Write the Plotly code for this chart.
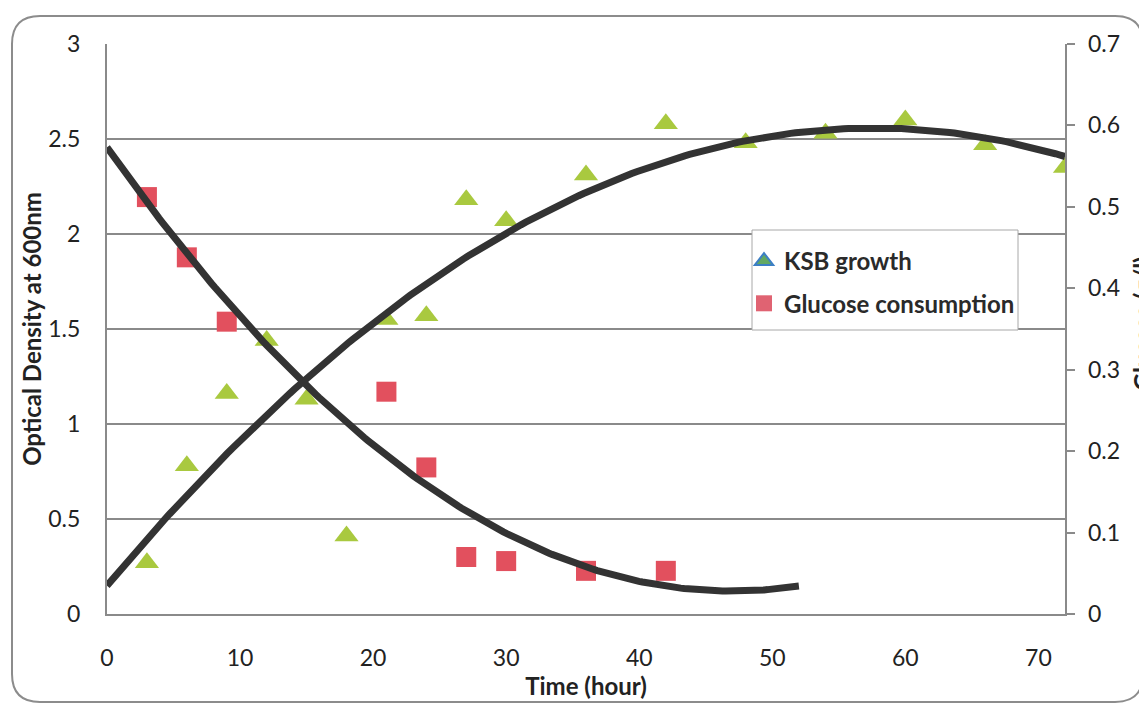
import numpy as np
import plotly.graph_objects as go

# ---- data ----
time_ksb = [3, 6, 9, 12, 15, 18, 21, 24, 27, 30, 36, 42, 48, 54, 60, 66, 72]
od_600 = [0.27, 0.78, 1.16, 1.44, 1.13, 0.41, 1.55, 1.57, 2.18, 2.07, 2.31, 2.58,
          2.48, 2.53, 2.60, 2.47, 2.35]

time_glucose = [3, 6, 9, 21, 24, 27, 30, 36, 42]
glucose = [0.512, 0.438, 0.359, 0.273, 0.180, 0.070, 0.065, 0.053, 0.053]

# trendline settings (Excel-like polynomial trendlines with forecast)
ksb_trend_order = 2
ksb_trend_range = (0, 72)
glu_trend_order = 2
glu_trend_range = (0, 52)

x_ticks = [0, 10, 20, 30, 40, 50, 60, 70]
y_left_ticks = [0, 0.5, 1, 1.5, 2, 2.5, 3]
y_right_ticks = [0, 0.1, 0.2, 0.3, 0.4, 0.5, 0.6, 0.7]
y_right_text = ["0", "0.1", "0.2", "0.3", "0.4", "0.5", "0.6", "0.7"]

FONT = "Lato"
GRID = "#8a8a8a"
CLEAR = "rgba(0,0,0,0)"

# ---- trendlines computed from the data (least squares, like Excel) ----
ksb_coef = np.polyfit(time_ksb, od_600, ksb_trend_order)
xs_ksb = np.linspace(*ksb_trend_range, 200)
ys_ksb = np.polyval(ksb_coef, xs_ksb)

glu_coef = np.polyfit(time_glucose, glucose, glu_trend_order)
xs_glu = np.linspace(*glu_trend_range, 200)
ys_glu = np.polyval(glu_coef, xs_glu)

fig = go.Figure()

tri_color = "#A9C93F"
sq_color = "#E2505E"

fig.add_trace(go.Scatter(x=time_ksb, y=od_600, mode="markers", yaxis="y",
                         marker=dict(symbol="triangle-up", size=21, color=tri_color),
                         showlegend=False, name="KSB growth"))
fig.add_trace(go.Scatter(x=time_glucose, y=glucose, mode="markers", yaxis="y2",
                         marker=dict(symbol="square", size=20, color=sq_color),
                         showlegend=False, name="Glucose consumption"))
fig.add_trace(go.Scatter(x=xs_ksb, y=ys_ksb, mode="lines", yaxis="y",
                         line=dict(color="#333333", width=7), showlegend=False))
fig.add_trace(go.Scatter(x=xs_glu, y=ys_glu, mode="lines", yaxis="y2",
                         line=dict(color="#333333", width=7), showlegend=False))

# legend entries
fig.add_trace(go.Scatter(x=[None], y=[None], mode="markers", name="KSB growth",
                         legendgroup="a",
                         marker=dict(symbol="triangle-up", size=17, color="#62A862",
                                     line=dict(color="#3C7FC4", width=2))))
fig.add_trace(go.Scatter(x=[None], y=[None], mode="markers", name="Glucose consumption",
                         legendgroup="b",
                         marker=dict(symbol="square", size=19, color="#E06372")))
# dummy trace so the tick-only right axis is drawn
fig.add_trace(go.Scatter(x=[None], y=[None], yaxis="y3", showlegend=False,
                         hoverinfo="skip"))

# page is offset by the 8px body margin
OFF = 8
W, H = 1147 - OFF, 705 - OFF
PL, PR, PT, PB = 107, 1065, 44, 614          # plot area in page pixels
LABEL_X = 1087                                # left edge of right tick labels
L, T = PL - OFF, PT - OFF
R, B = W - (LABEL_X - OFF), H - (PB - OFF)
paper_w, ph = LABEL_X - PL, PB - PT
x_domain_end = (PR - PL) / paper_w


def px(xp):
    return (xp - PL) / paper_w


def py(yp):
    return (PB - yp) / ph


# rounded outer chart border
x0, x1, y0, y1 = px(12), px(1143), py(702), py(16)
rx, ry = 28 / paper_w, 28 / ph
path = (f"M {x0+rx},{y1} L {x1-rx},{y1} Q {x1},{y1} {x1},{y1-ry} "
        f"L {x1},{y0+ry} Q {x1},{y0} {x1-rx},{y0} L {x0+rx},{y0} "
        f"Q {x0},{y0} {x0},{y0+ry} L {x0},{y1-ry} Q {x0},{y1} {x0+rx},{y1} Z")

shapes = [
    dict(type="path", path=path, xref="paper", yref="paper",
         line=dict(color="#8c8c8c", width=2), layer="below"),
    # legend box
    dict(type="rect", xref="paper", yref="paper",
         x0=px(752), x1=px(1018), y0=py(330), y1=py(230),
         fillcolor="white", line=dict(color="#a8a8a8", width=1), layer="above"),
]

title_font = dict(size=24, weight="bold", color="#222222")

fig.update_layout(
    width=W, height=H,
    margin=dict(l=L, r=R, t=T, b=B, autoexpand=False),
    paper_bgcolor="white", plot_bgcolor="white",
    font=dict(family=FONT, color="#222222", size=23),
    shapes=shapes,
    annotations=[dict(text="Glucose (g/l)", textangle=-90, showarrow=False,
                      xref="paper", yref="paper", x=px(1125), y=py(324),
                      xanchor="left", yanchor="middle", font=title_font)],
    xaxis=dict(domain=[0, x_domain_end], range=[0, 72], tickvals=x_ticks,
               showgrid=False, showline=True, linecolor=GRID, linewidth=2,
               ticks="outside", ticklen=22, tickcolor=CLEAR, zeroline=False,
               title=dict(text="Time (hour)", font=title_font, standoff=8)),
    yaxis=dict(range=[0, 3], tickvals=y_left_ticks, showgrid=True, gridcolor=GRID,
               gridwidth=2, showline=True, linecolor=GRID, linewidth=2,
               ticks="outside", ticklen=20, tickcolor=CLEAR, zeroline=False,
               title=dict(text="Optical Density at 600nm", font=title_font,
                          standoff=0)),
    # labels of the glucose axis, set a little away from the plot edge
    yaxis2=dict(range=[0, 0.7], overlaying="y", side="right",
                anchor="free", position=1.0,
                tickvals=y_right_ticks, ticktext=y_right_text,
                showgrid=False, showline=False, ticks="", zeroline=False),
    # glucose axis line and its small outside ticks at the plot edge
    yaxis3=dict(range=[0, 0.7], overlaying="y", side="right", anchor="x",
                tickvals=y_right_ticks, showticklabels=False, showgrid=False,
                showline=True, linecolor=GRID, linewidth=2, zeroline=False,
                ticks="outside", ticklen=8, tickcolor=GRID, tickwidth=1.5),
    legend=dict(x=px(744), y=py(239), xanchor="left", yanchor="top",
                bgcolor=CLEAR, borderwidth=0, itemwidth=30,
                font=dict(size=24, weight="bold", color="#2a2a2a"),
                tracegroupgap=8, itemsizing="trace"),
)

fig.write_html("out.html")
